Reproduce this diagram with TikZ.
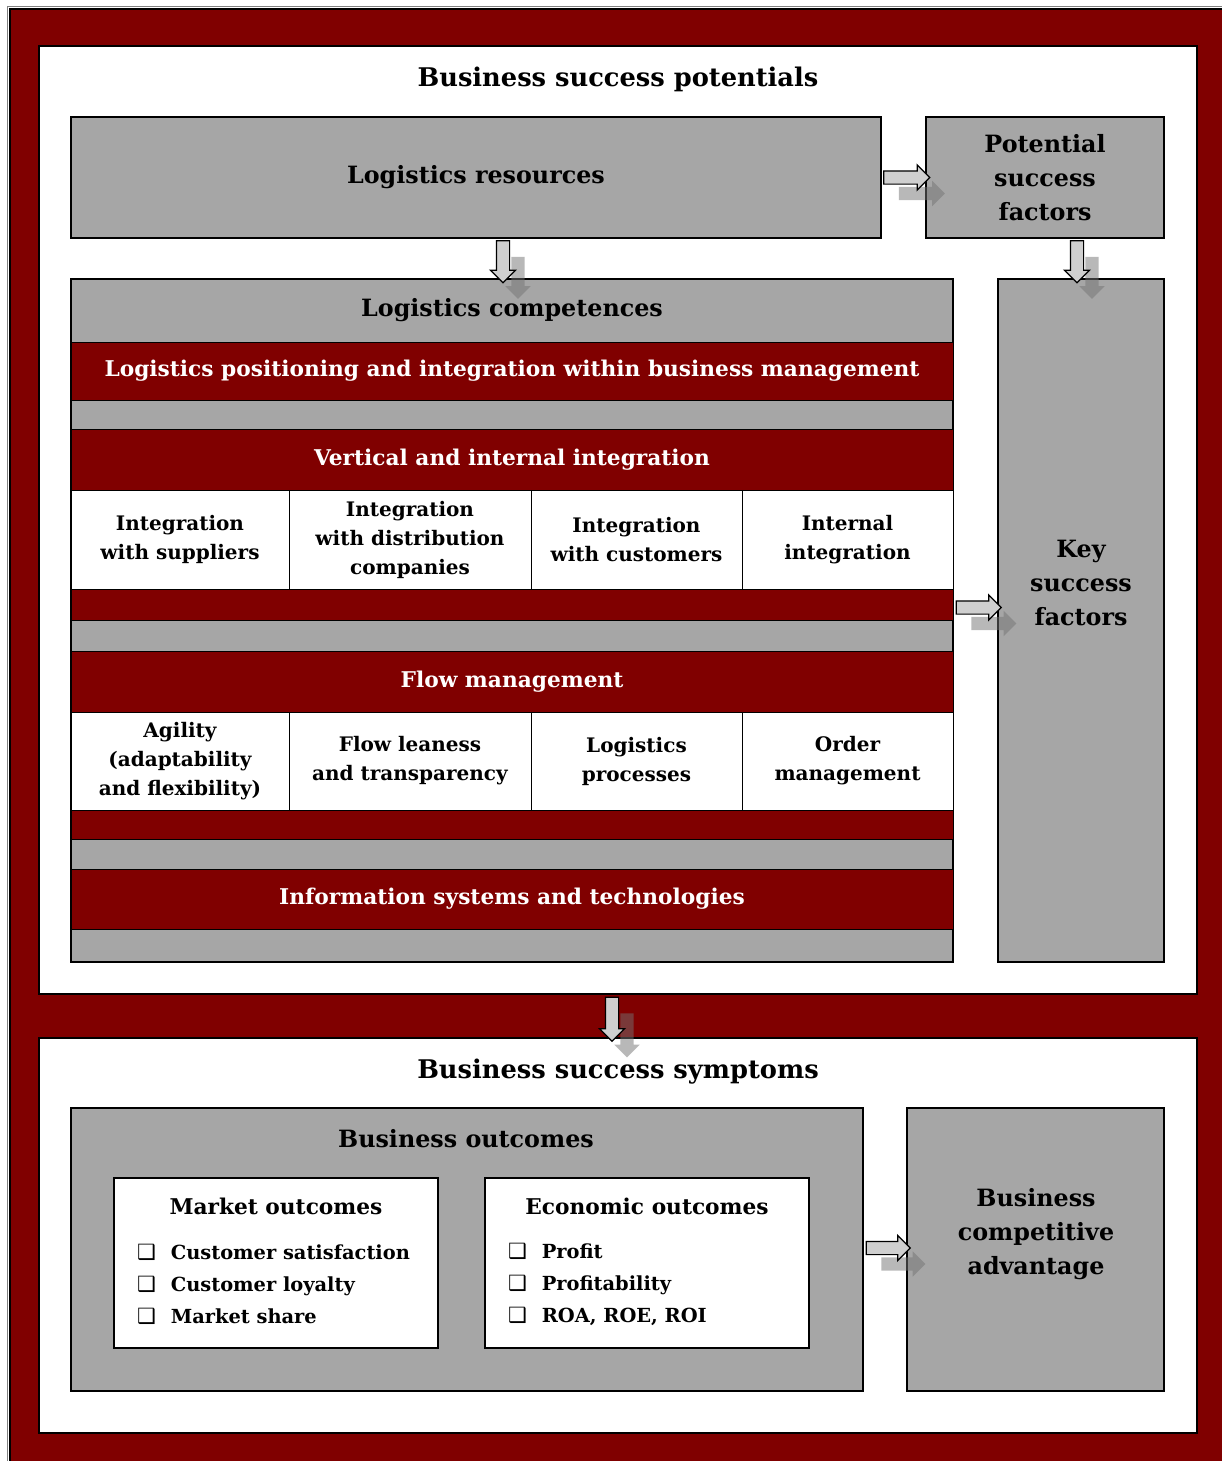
\documentclass[tikz,border=0pt]{standalone}
\usepackage{fontspec}
\setmainfont{DejaVu Serif}
\newfontfamily\symfont{DejaVu Sans}
\usepackage{tikz}
\usetikzlibrary{calc,shapes.arrows,shadows}
\definecolor{darkred}{HTML}{800000}
\definecolor{boxgray}{HTML}{A6A6A6}
\definecolor{arrowgray}{HTML}{CFCFCF}
\newcommand\titlesize{\fontsize{25.7}{30}\selectfont\bfseries}
\newcommand\boxsize{\fontsize{23.8}{34}\selectfont\bfseries}
\newcommand\bandsize{\fontsize{21.7}{25}\selectfont\bfseries}
\newcommand\cellsize{\fontsize{20}{29}\selectfont\bfseries}
\newcommand\listsize{\fontsize{19.4}{32}\selectfont\bfseries}
\newcommand\chk{{\symfont\fontsize{21}{32}\selectfont\char"2751}\hspace{15pt}}
\tikzset{
    every node/.style={inner sep=0pt, outer sep=0pt},
    panel/.style={draw=black, line width=1.5pt, fill=white},
    graybox/.style={draw=black, line width=1.2pt, fill=boxgray, align=center, font=\boxsize},
    redband/.style={draw=black, line width=1pt, fill=darkred, text=white, font=\bandsize, minimum width=882pt},
    cell/.style={draw=black, line width=1pt, fill=white, align=center, font=\cellsize},
    arrowbase/.style={single arrow, draw=black, line width=1.2pt, fill=arrowgray,
        inner xsep=0pt, inner ysep=6pt, single arrow head extend=6pt,
        general shadow={fill=black!55, opacity=.5, shadow xshift=15pt, shadow yshift=-16pt}},
    rarrow/.style={arrowbase, minimum height=46pt},
    darrow/.style={arrowbase, rotate=-90, minimum height=42pt},
}
\begin{document}
\begin{tikzpicture}[x=1pt, y=-1pt]
    \useasboundingbox (0,0) rectangle (1222,1461);
    \clip (0,0) rectangle (1222,1461);
    % frame
    \draw[gray, line width=1pt] (7,7) rectangle (1240,1480);
    \draw[black, line width=2pt, fill=darkred] (9.5,9.5) rectangle (1240,1480);
    % potentials
    \node[panel, minimum width=1158pt, minimum height=948pt] (top) at (618,520) {};
    \node[font=\titlesize] (toptitle) at (618,79) {Business success potentials};
    \node[graybox, minimum width=810pt, minimum height=121pt] (res) at (476,177.5) {Logistics resources};
    \node[graybox, minimum width=238pt, minimum height=121pt] (psf) at (1045,177.5) {Potential\\success\\factors};
    \node[graybox, minimum width=882pt, minimum height=683pt] (comp) at (512,620.5) {};
    \node[font=\boxsize] (comptitle) at (512,310) {Logistics competences};
    \node[graybox, minimum width=166pt, minimum height=683pt] (ksf) at (1081,620.5) {};
    \node[font=\boxsize, align=center] (ksftext) at (1081,583) {Key\\success\\factors};
    % bands and cells
    \node[redband, minimum height=58pt] (band1) at (512,371) {Logistics positioning and integration within business management};
    \node[redband, minimum height=61pt] (band2) at (512,459.5) {Vertical and internal integration};
    \node[cell, minimum width=218pt, minimum height=99pt] (c11) at (180,539.5) {Integration\\with suppliers};
    \node[cell, minimum width=242pt, minimum height=99pt] (c12) at (410,539.5) {Integration\\with distribution\\companies};
    \node[cell, minimum width=211pt, minimum height=99pt] (c13) at (636.5,539.5) {Integration\\with customers};
    \node[cell, minimum width=211pt, minimum height=99pt] (c14) at (847.5,539.5) {Internal\\integration};
    \node[redband, minimum height=31pt] (band3) at (512,604.5) {};
    \node[redband, minimum height=61pt] (band4) at (512,681.5) {Flow management};
    \node[cell, minimum width=218pt, minimum height=98pt] (c21) at (180,761) {Agility\\(adaptability\\and flexibility)};
    \node[cell, minimum width=242pt, minimum height=98pt] (c22) at (410,761) {Flow leaness\\and transparency};
    \node[cell, minimum width=211pt, minimum height=98pt] (c23) at (636.5,761) {Logistics\\processes};
    \node[cell, minimum width=211pt, minimum height=98pt] (c24) at (847.5,761) {Order\\management};
    \node[redband, minimum height=29pt] (band5) at (512,824.5) {};
    \node[redband, minimum height=60pt] (band6) at (512,899) {Information systems and technologies};
    % symptoms
    \node[panel, minimum width=1158pt, minimum height=395pt] (bot) at (618,1235.5) {};
    \node[font=\titlesize] (bottitle) at (618,1072) {Business success symptoms};
    \node[graybox, minimum width=792pt, minimum height=283pt] (outc) at (467,1249.5) {};
    \node[font=\boxsize] (outctitle) at (466,1139) {Business outcomes};
    \node[panel, line width=1.2pt, minimum width=324pt, minimum height=170pt] (mkt) at (276,1263) {};
    \node[font=\bandsize] (mkttitle) at (276,1206) {Market outcomes};
    \node[font=\listsize, align=left, anchor=west] (mktlist) at (137,1284) {\chk Customer satisfaction\\\chk Customer loyalty\\\chk Market share};
    \node[panel, line width=1.2pt, minimum width=324pt, minimum height=170pt] (eco) at (647,1263) {};
    \node[font=\bandsize] (ecotitle) at (647,1206) {Economic outcomes};
    \node[font=\listsize, align=left, anchor=west] (ecolist) at (508,1284) {\chk Profit\\\chk Profitability\\\chk ROA, ROE, ROI};
    \node[graybox, minimum width=257pt, minimum height=283pt] (adv) at (1035.5,1249.5) {};
    \node[font=\boxsize, align=center] (advtext) at (1036,1234) {Business\\competitive\\advantage};
    % arrows
    \node[rarrow] (a1) at ($(res.east)!.5!(psf.west)$) {};
    \node[darrow] (a2) at (503,258.5) {};
    \node[darrow] (a3) at (1077,258.5) {};
    \node[rarrow, minimum height=45pt] (a4) at ($(comp.east |- 0,607.5)!.5!(ksf.west |- 0,607.5)$) {};
    \node[darrow, minimum height=44pt] (a5) at (612,1016) {};
    \node[rarrow, minimum height=44pt] (a6) at ($(outc.east |- 0,1248)!.5!(adv.west |- 0,1248)$) {};
\end{tikzpicture}
\end{document}
